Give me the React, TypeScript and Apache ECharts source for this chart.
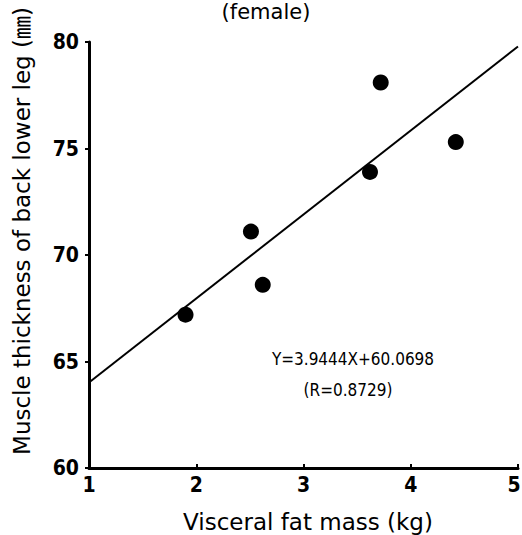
import React, { useEffect, useRef } from "react";
import * as echarts from "echarts";

const fatMass = [1.9, 2.51, 2.62, 3.62, 3.72, 4.42];
const muscleThickness = [67.2, 71.1, 68.6, 73.9, 78.1, 75.3];
const slope = 3.9444;
const intercept = 60.0698;
const rValue = 0.8729;
const xTicks = [1, 2, 3, 4, 5];
const yTicks = [60, 65, 70, 75, 80];

const narrow = "'DejaVu Sans Condensed', 'Liberation Sans Narrow', sans-serif";
const sans = "'DejaVu Sans', 'Noto Sans CJK JP', sans-serif";

export default function App() {
  const ref = useRef<HTMLDivElement>(null);
  useEffect(() => {
    if (!ref.current) return;
    const chart = echarts.init(ref.current, undefined, { renderer: "svg" });
    const xMin = xTicks[0];
    const xMax = xTicks[xTicks.length - 1];
    const fitLine = [
      [xMin, slope * xMin + intercept],
      [xMax, slope * xMax + intercept],
    ];
    chart.setOption({
      animation: false,
      backgroundColor: "#ffffff",
      grid: { left: 89, right: 4, top: 42, bottom: 67, outerBoundsMode: "none" },
      xAxis: {
        type: "value",
        min: xMin,
        max: xMax,
        interval: 1,
        axisLine: { lineStyle: { color: "#000", width: 3 } },
        axisTick: { inside: true, length: 4, lineStyle: { color: "#000", width: 2 } },
        splitLine: { show: false },
        axisLabel: {
          color: "#000",
          fontSize: 21,
          fontWeight: "bold",
          fontFamily: narrow,
          margin: 6,
          formatter: (v: number) => (v === xMax ? "{e|" + v + "}" : String(v)),
          rich: {
            e: {
              fontSize: 21,
              fontWeight: "bold",
              fontFamily: narrow,
              color: "#000",
              padding: [0, 8, 0, 0],
            },
          },
        },
      },
      yAxis: {
        type: "value",
        min: yTicks[0],
        max: yTicks[yTicks.length - 1],
        interval: 5,
        axisLine: { lineStyle: { color: "#000", width: 3 } },
        axisTick: { show: true, inside: false, length: 4, lineStyle: { color: "#000", width: 2 } },
        splitLine: { show: false },
        axisLabel: {
          color: "#000",
          fontSize: 21,
          fontWeight: "bold",
          fontFamily: narrow,
          margin: 10,
        },
      },
      graphic: [
        {
          type: "text",
          x: 266,
          y: 12,
          style: {
            text: "(female)",
            font: "21px " + sans,
            fill: "#000",
            align: "center",
            verticalAlign: "middle",
          },
        },
        {
          type: "text",
          x: 22,
          y: 231,
          rotation: Math.PI / 2,
          style: {
            text: "Muscle thickness of back lower leg (㎜)",
            font: "23px " + sans,
            fill: "#000",
            align: "center",
            verticalAlign: "middle",
          },
        },
        {
          type: "text",
          x: 308,
          y: 522,
          style: {
            text: "Visceral fat mass (kg)",
            font: "23px " + sans,
            fill: "#000",
            align: "center",
            verticalAlign: "middle",
          },
        },
        {
          type: "text",
          x: 353,
          y: 359,
          style: {
            text: "Y=" + slope + "X+" + intercept,
            font: "17px " + narrow,
            fill: "#000",
            align: "center",
            verticalAlign: "middle",
          },
        },
        {
          type: "text",
          x: 348,
          y: 390,
          style: {
            text: "(R=" + rValue + ")",
            font: "17px " + narrow,
            fill: "#000",
            align: "center",
            verticalAlign: "middle",
          },
        },
      ],
      series: [
        {
          type: "line",
          data: fitLine,
          symbol: "none",
          lineStyle: { color: "#000", width: 2 },
          z: 2,
        },
        {
          type: "scatter",
          data: fatMass.map((x, i) => [x, muscleThickness[i]]),
          symbol: "circle",
          symbolSize: 16,
          itemStyle: { color: "#000", opacity: 1 },
          z: 3,
        },
      ],
    });
    return () => chart.dispose();
  }, []);
  return <div ref={ref} style={{ width: 522, height: 535, position: "absolute", left: 0, top: 0 }} />;
}
